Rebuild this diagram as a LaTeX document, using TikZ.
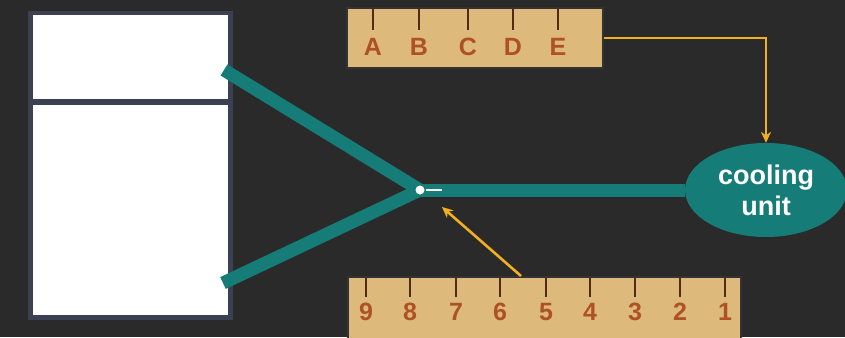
\documentclass[tikz,border=0pt]{standalone}
\usepackage{fontspec}
\setmainfont{Liberation Sans}
\usetikzlibrary{arrows.meta,shapes.geometric}
\definecolor{bg}{HTML}{2A2A2A}
\definecolor{frame}{HTML}{3B4152}
\definecolor{pipe}{HTML}{167C78}
\definecolor{tan}{HTML}{DDB97C}
\definecolor{rust}{HTML}{AE5028}
\definecolor{arr}{HTML}{F2B01E}
\tikzset{
  pipeline/.style={draw=pipe,line width=13pt},
  ruler/.style={fill=tan,draw=black!80,line width=1.5pt},
  tick/.style={draw=rust!50!black,line width=1.2pt},
  rlabel/.style={text=rust,font=\bfseries\fontsize{25}{27}\selectfont,inner sep=0pt},
  pointer/.style={draw=arr,line width=2.6pt,-{Stealth[length=11pt,width=10pt]}}
}
\begin{document}
\begin{tikzpicture}[x=1pt,y=-1pt]
\fill[bg] (0,0) rectangle (845,337);
\useasboundingbox (0,0) rectangle (845,337);
% fridge
\fill[frame] (28,11) rectangle (233,320);
\fill[white] (33,15) rectangle (228,99);
\fill[white] (33,105) rectangle (228,315);
% pipes
\coordinate (j) at (420,190);
\coordinate (up) at (224,70);
\coordinate (lo) at (223,283);
\node[ellipse,fill=pipe,minimum width=162pt,minimum height=94pt,inner sep=0pt,text=white,align=center,font=\bfseries\fontsize{27}{31}\selectfont] (cu) at (766,190) {cooling\\unit};
\draw[pipeline] (up) -- (j) -- (lo);
\draw[pipeline] (j) -- (cu.west);
\fill[white] (j) circle (4.5pt);
\coordinate (w1) at (426,190);
\coordinate (w2) at (442,190);
\draw[white,line width=1.8pt] (w1) -- (w2);
% top ruler
\node[ruler,minimum width=256pt,minimum height=60pt,inner sep=0pt] (tr) at (475,38) {};
\foreach \x/\l in {373/A,419/B,468/C,513/D,558/E}{
  \draw[tick] (\x,9) -- (\x,30);
  \node[rlabel] at (\x,47) {\l};
}
% bottom ruler
\node[ruler,minimum width=393pt,minimum height=64pt,inner sep=0pt,anchor=north west] (br) at (347,276) {};
\foreach \x/\l in {366/9,410/8,456/7,500/6,546/5,590/4,635/3,680/2,725/1}{
  \draw[tick] (\x,277) -- (\x,297);
  \node[rlabel] at (\x,312) {\l};
}
% arrows
\coordinate (a1) at (cu.north |- tr.east);
\draw[pointer] (tr.east) -- (a1) -- (cu.north);
\coordinate (a2) at (521,276);
\coordinate (a3) at (442,207);
\draw[pointer] (a2) -- (a3);
\end{tikzpicture}
\end{document}
